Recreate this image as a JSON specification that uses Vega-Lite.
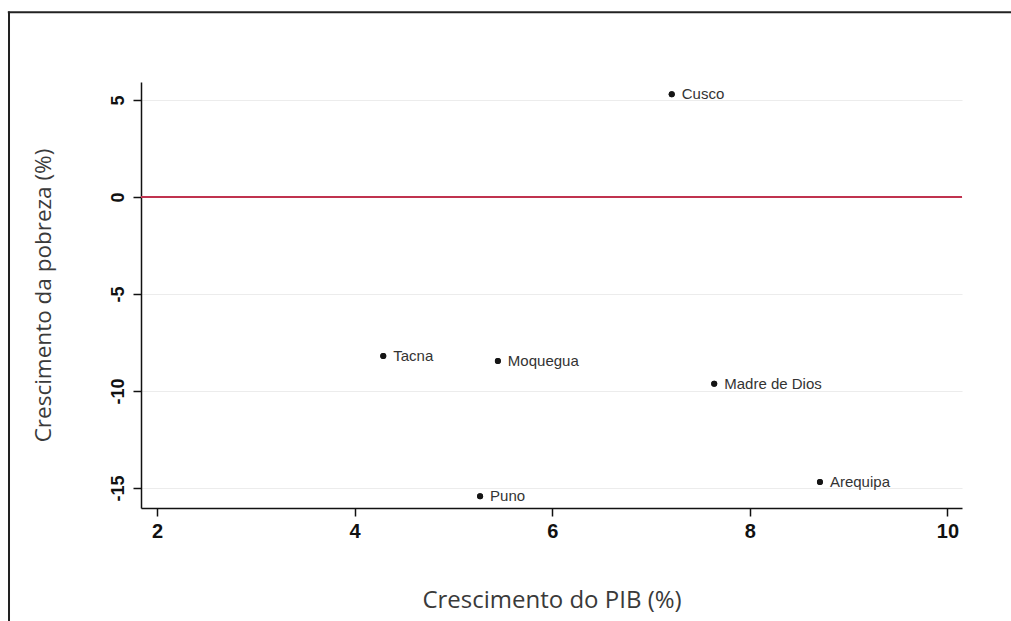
{
  "$schema": "https://vega.github.io/schema/vega-lite/v6.json",
  "width": 821,
  "height": 426,
  "autosize": {"type": "none"},
  "padding": {"left": 141, "top": 82, "right": 49, "bottom": 113},
  "background": "white",
  "config": {
    "view": {"stroke": null},
    "axisX": {
      "grid": false,
      "domainColor": "#111", "domainWidth": 1.5,
      "tickColor": "#111", "tickWidth": 1.5, "tickSize": 8,
      "labelFont": "Liberation Sans", "labelFontSize": 20, "labelFontWeight": "bold",
      "labelColor": "#111", "labelPadding": 5,
      "titleFont": "Open Sans", "titleFontSize": 24, "titleFontWeight": "normal",
      "titleColor": "#3a3a3a", "titlePadding": 47
    },
    "axisY": {
      "grid": true, "gridColor": "#ececec", "gridWidth": 1.2,
      "domainColor": "#111", "domainWidth": 1.5,
      "tickColor": "#111", "tickWidth": 1.5, "tickSize": 8,
      "labelFont": "Liberation Sans", "labelFontSize": 18, "labelFontWeight": "bold",
      "labelColor": "#111", "labelPadding": 10,
      "labelAngle": -90, "labelAlign": "center", "labelBaseline": "alphabetic",
      "titleFont": "Open Sans", "titleFontSize": 22.5, "titleFontWeight": "normal",
      "titleColor": "#3a3a3a", "titlePadding": 54
    }
  },
  "data": {
    "values": [
      {"regiao": "Cusco", "pib": 7.21, "pobreza": 5.3},
      {"regiao": "Tacna", "pib": 4.29, "pobreza": -8.2},
      {"regiao": "Moquegua", "pib": 5.45, "pobreza": -8.45},
      {"regiao": "Madre de Dios", "pib": 7.64, "pobreza": -9.62},
      {"regiao": "Arequipa", "pib": 8.71, "pobreza": -14.69},
      {"regiao": "Puno", "pib": 5.27, "pobreza": -15.43}
    ]
  },
  "layer": [
    {
      "mark": {"type": "circle", "size": 36, "color": "#151515", "opacity": 1},
      "encoding": {
        "x": {
          "field": "pib", "type": "quantitative",
          "scale": {"domain": [1.838, 10.148], "nice": false, "zero": false},
          "axis": {"title": "Crescimento do PIB (%)", "values": [2, 4, 6, 8, 10], "labelExpr": "'' + datum.value"}
        },
        "y": {
          "field": "pobreza", "type": "quantitative",
          "scale": {"domain": [-16.03, 5.93], "nice": false, "zero": false},
          "axis": {"title": "Crescimento da pobreza (%)", "values": [-15, -10, -5, 0, 5], "labelExpr": "'' + datum.value"}
        }
      }
    },
    {
      "mark": {"type": "rule", "color": "#c0334f", "strokeWidth": 2},
      "data": {"values": [{}]},
      "encoding": {
        "y": {"datum": 0, "type": "quantitative", "title": "Crescimento da pobreza (%)"}
      }
    },
    {
      "mark": {"type": "circle", "size": 36, "color": "#151515", "opacity": 1},
      "encoding": {
        "x": {"field": "pib", "type": "quantitative", "title": "Crescimento do PIB (%)"},
        "y": {"field": "pobreza", "type": "quantitative", "title": "Crescimento da pobreza (%)"}
      }
    },
    {
      "mark": {"type": "text", "align": "left", "baseline": "middle", "dx": 10, "font": "Liberation Sans", "fontSize": 15, "color": "#333"},
      "encoding": {
        "x": {"field": "pib", "type": "quantitative", "title": "Crescimento do PIB (%)"},
        "y": {"field": "pobreza", "type": "quantitative", "title": "Crescimento da pobreza (%)"},
        "text": {"field": "regiao"}
      }
    },
    {
      "mark": {"type": "rule", "color": "#222", "strokeWidth": 2},
      "data": {"values": [{}]},
      "encoding": {
        "x": {"datum": 0.49, "type": "quantitative", "title": "Crescimento do PIB (%)"},
        "x2": {"datum": 12},
        "y": {"datum": 9.52, "type": "quantitative", "title": "Crescimento da pobreza (%)"}
      }
    },
    {
      "mark": {"type": "rule", "color": "#222", "strokeWidth": 2},
      "data": {"values": [{}]},
      "encoding": {
        "x": {"datum": 0.502, "type": "quantitative", "title": "Crescimento do PIB (%)"},
        "y": {"datum": 9.57, "type": "quantitative", "title": "Crescimento da pobreza (%)"},
        "y2": {"datum": -25}
      }
    }
  ]
}
